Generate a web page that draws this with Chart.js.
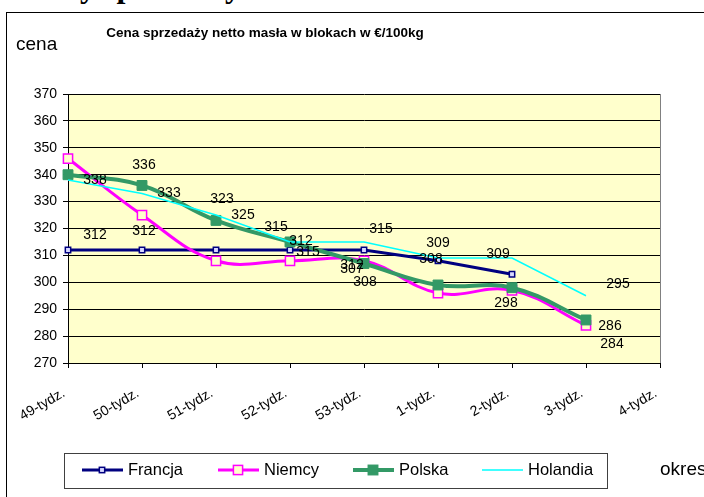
<!DOCTYPE html>
<html>
<head>
<meta charset="utf-8">
<script src="https://cdn.jsdelivr.net/npm/chart.js@4.4.1/dist/chart.umd.min.js"></script>
<style>
    body { margin: 0; background: #fff; overflow: hidden; }
    #wrap { position: relative; width: 704px; height: 497px; overflow: hidden; }
    #frame { position: absolute; left: 6px; top: 12px; width: 720px; height: 500px;
             border-left: 1px solid #000; border-top: 1px solid #000; }
    #heading { position: absolute; left: 25px; top: -30px; margin: 0;
               font: bold 32px "Liberation Serif", "Times New Roman", serif; line-height: 32px;
               white-space: nowrap; }
    canvas { position: absolute; left: 0; top: 0; }
</style>
</head>
<body>
<div id="wrap">
    <div id="heading">Ceny sprzedaży masła</div>
    <div id="frame"></div>
    <canvas id="myChart" width="704" height="497"></canvas>
</div>
<script>
// dane
const tygodnie = ['49-tydz.', '50-tydz.', '51-tydz.', '52-tydz.', '53-tydz.', '1-tydz.', '2-tydz.', '3-tydz.', '4-tydz.'];
const francja = [312, 312, 312, 312, 312, 308, 303, null, null];
const niemcy = [346, 325, 308, 308, 308, 296, 297, 284, null];
const polska = [340, 336, 323, 315, 307, 299, 298, 286, null];
const holandia = [338, 333, 325, 315, 315, 309, 309, 295, null];
const yTicks = [270, 280, 290, 300, 310, 320, 330, 340, 350, 360, 370];

const tytul = 'Cena sprzedaży netto masła w blokach w €/100kg';

// etykiety danych: [seria, punkt, dx, dy] (tak jak rozstawione w Excelu)
const etykiety = [
    [3, 0, 27, 0], [2, 1, 2, -20], [3, 1, 27, 0], [2, 2, 6, -21], [3, 2, 27, 0],
    [2, 3, -14, -15], [0, 3, 11, -9], [3, 3, 18, 10], [0, 0, 27, -15], [0, 1, 2, -19],
    [3, 4, 17, -13], [0, 4, -12, 15], [2, 4, -12, 6], [1, 4, 1, 21], [3, 5, 0, -15],
    [0, 5, -7, -2], [3, 6, -14, -4], [2, 6, -6, 15], [3, 7, 32, -12], [2, 7, 24, 6], [1, 7, 26, 19]
];

const PLOT_BG = '#FFFFCC';

const tloPlugin = {
    id: 'tlo',
    beforeDraw(chart) {
        const a = chart.chartArea;
        const ctx = chart.ctx;
        ctx.save();
        ctx.fillStyle = PLOT_BG;
        ctx.fillRect(a.left, a.top, a.right - a.left, a.bottom - a.top);
        ctx.restore();
    },
    beforeDatasetsDraw(chart) {
        const a = chart.chartArea;
        const ctx = chart.ctx;
        ctx.save();
        ctx.strokeStyle = '#808080';
        ctx.lineWidth = 1;
        ctx.beginPath();
        ctx.moveTo(Math.round(a.right) + 0.5, a.top);
        ctx.lineTo(Math.round(a.right) + 0.5, a.bottom);
        ctx.stroke();
        ctx.restore();
    }
};

function kwadrat(ctx, x, y, side, fill, stroke, lw) {
    if (fill) {
        ctx.fillStyle = fill;
        ctx.fillRect(x - side / 2, y - side / 2, side, side);
    }
    if (stroke) {
        ctx.strokeStyle = stroke;
        ctx.lineWidth = lw;
        ctx.strokeRect(x - side / 2, y - side / 2, side, side);
    }
}

const tekstyPlugin = {
    id: 'teksty',
    afterDatasetsDraw(chart) {
        const ctx = chart.ctx;
        ctx.save();
        ctx.fillStyle = '#000';
        ctx.textAlign = 'center';
        ctx.textBaseline = 'middle';
        ctx.font = '14px Arial, "Liberation Sans", sans-serif';
        etykiety.forEach(([s, i, dx, dy]) => {
            const pt = chart.getDatasetMeta(s).data[i];
            const v = chart.data.datasets[s].data[i];
            if (!pt || v == null) return;
            ctx.fillText(String(v), pt.x + dx, pt.y + dy);
        });
        ctx.restore();
    },
    afterDraw(chart) {
        const ctx = chart.ctx;
        ctx.save();
        ctx.fillStyle = '#000';
        ctx.textBaseline = 'middle';
        ctx.textAlign = 'center';
        ctx.font = 'bold 13.5px Arial, "Liberation Sans", sans-serif';
        ctx.fillText(tytul, 265, 33);
        ctx.textAlign = 'left';
        ctx.font = '19px Arial, "Liberation Sans", sans-serif';
        ctx.fillText('cena', 16, 45);
        ctx.fillText('okres', 660, 470);

        // legenda
        const bx = 64, by = 453, bw = 543, bh = 35;
        ctx.strokeStyle = '#404040';
        ctx.lineWidth = 1;
        ctx.strokeRect(bx + 0.5, by + 0.5, bw, bh);
        const starts = [82, 218, 353, 482];
        const ly = 470;
        ctx.font = '16.5px Arial, "Liberation Sans", sans-serif';
        chart.data.datasets.forEach((ds, k) => {
            const x0 = starts[k];
            ctx.strokeStyle = ds.borderColor;
            ctx.lineWidth = ds.borderWidth;
            ctx.beginPath();
            ctx.moveTo(x0, ly);
            ctx.lineTo(x0 + 41, ly);
            ctx.stroke();
            if (ds.pointRadius > 0) {
                const side = ds.pointRadius * Math.SQRT2;
                kwadrat(ctx, x0 + 20, ly, side, ds.pointBackgroundColor, ds.pointBorderColor, ds.pointBorderWidth);
            }
            ctx.fillStyle = '#000';
            ctx.fillText(ds.label, x0 + 46, ly);
        });
        ctx.restore();
    }
};

const ctx = document.getElementById('myChart').getContext('2d');
const chart = new Chart(ctx, {
    type: 'line',
    data: {
        labels: tygodnie,
        datasets: [{
            label: 'Francja',
            data: francja,
            borderColor: '#000080',
            borderWidth: 3,
            tension: 0,
            pointStyle: 'rect',
            pointRadius: 3.8,
            pointBackgroundColor: '#d8d8ff',
            pointBorderColor: '#000080',
            pointBorderWidth: 1.5,
            order: 4
        }, {
            label: 'Niemcy',
            data: niemcy,
            borderColor: '#FF00FF',
            borderWidth: 3,
            tension: 0.4,
            pointStyle: 'rect',
            pointRadius: 6.5,
            pointBackgroundColor: PLOT_BG,
            pointBorderColor: '#FF00FF',
            pointBorderWidth: 1.5,
            order: 3
        }, {
            label: 'Polska',
            data: polska,
            borderColor: '#339966',
            borderWidth: 4,
            tension: 0.4,
            pointStyle: 'rect',
            pointRadius: 7,
            pointBackgroundColor: '#339966',
            pointBorderColor: '#339966',
            pointBorderWidth: 1,
            order: 2
        }, {
            label: 'Holandia',
            data: holandia,
            borderColor: '#00FFFF',
            borderWidth: 1.5,
            tension: 0,
            pointRadius: 0,
            order: 1
        }]
    },
    options: {
        responsive: false,
        animation: false,
        spanGaps: false,
        layout: { padding: { left: 0, top: 94, right: 44, bottom: 0 } },
        plugins: {
            legend: { display: false },
            title: { display: false },
            tooltip: { enabled: false }
        },
        scales: {
            x: {
                type: 'category',
                offset: false,
                grid: { drawOnChartArea: false, drawTicks: true, tickLength: 5, color: '#000' },
                border: { color: '#000', width: 1 },
                ticks: {
                    color: '#000',
                    font: { family: 'Arial, "Liberation Sans", sans-serif', size: 14 },
                    minRotation: 30,
                    maxRotation: 30,
                    autoSkip: false,
                    padding: 17,
                    labelOffset: -4
                },
                afterFit(s) { s.height = 134; }
            },
            y: {
                min: 270,
                max: 370,
                afterBuildTicks(s) { s.ticks = yTicks.map(v => ({ value: v })); },
                grid: { color: '#000', tickLength: 5 },
                border: { color: '#000', width: 1 },
                ticks: {
                    color: '#000',
                    font: { family: 'Arial, "Liberation Sans", sans-serif', size: 14 },
                    padding: 6
                },
                afterFit(s) { s.width = 68; }
            }
        }
    },
    plugins: [tloPlugin, tekstyPlugin]
});
</script>
</body>
</html>
